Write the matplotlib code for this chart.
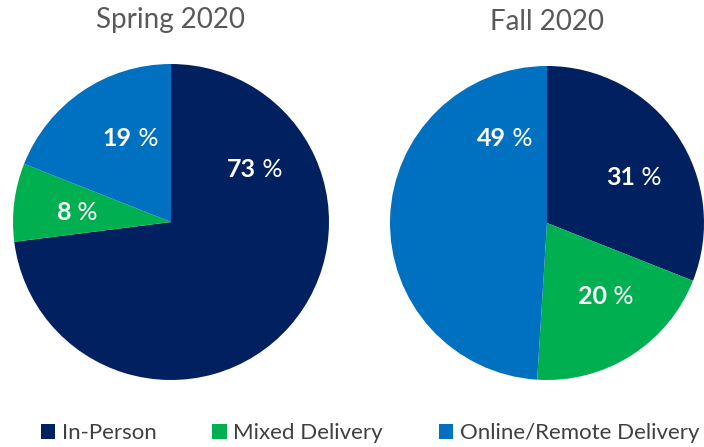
import matplotlib.pyplot as plt
from matplotlib.patches import Patch

# Data
categories = ["In-Person", "Mixed Delivery", "Online/Remote Delivery"]
spring_2020 = [73, 8, 19]
fall_2020 = [31, 20, 49]
titles = ["Spring 2020", "Fall 2020"]
colors = ["#002060", "#00B050", "#0070C0"]

# label spots (in pie radius units), hand placed like the original
label_pos = [
    [(0.50, 0.33), (-0.67, 0.06), (-0.29, 0.53)],
    [(0.52, 0.29), (0.34, -0.47), (-0.30, 0.54)],
]

fig = plt.figure(figsize=(7.04, 4.47), dpi=100)
plt.rcParams['font.family'] = ['Lato', 'DejaVu Sans']

axes_rects = [
    [13 / 704, 67 / 447, 316 / 704, 316 / 447],
    [390 / 704, 67 / 447, 314 / 704, 314 / 447],
]

for rect, values, title, spots in zip(axes_rects, [spring_2020, fall_2020], titles, label_pos):
    ax = fig.add_axes(rect)
    ax.pie(values, colors=colors, startangle=90, counterclock=False,
           wedgeprops=dict(linewidth=0))
    ax.set_xlim(-1, 1)
    ax.set_ylim(-1, 1)
    ax.set_aspect('auto')
    ax.axis('off')
    ax.text(0, 1.28, title, ha='center', va='center', fontsize=20, color='#595959')
    for v, (x, y) in zip(values, spots):
        ax.text(x + 0.04, y, str(v), ha='right', va='center', fontsize=18,
                fontweight='bold', color='white')
        ax.text(x + 0.04, y, " %", ha='left', va='center', fontsize=18, color='white')

handles = [Patch(facecolor=c, edgecolor='none') for c in colors]
fig.legend(handles, categories, loc='center', bbox_to_anchor=(370 / 704, 14 / 447),
           ncol=3, frameon=False, fontsize=16, handlelength=0.65, handleheight=0.65,
           handletextpad=0.3, columnspacing=2.5, labelcolor='#404040')

fig.savefig("out.png", dpi=100)
